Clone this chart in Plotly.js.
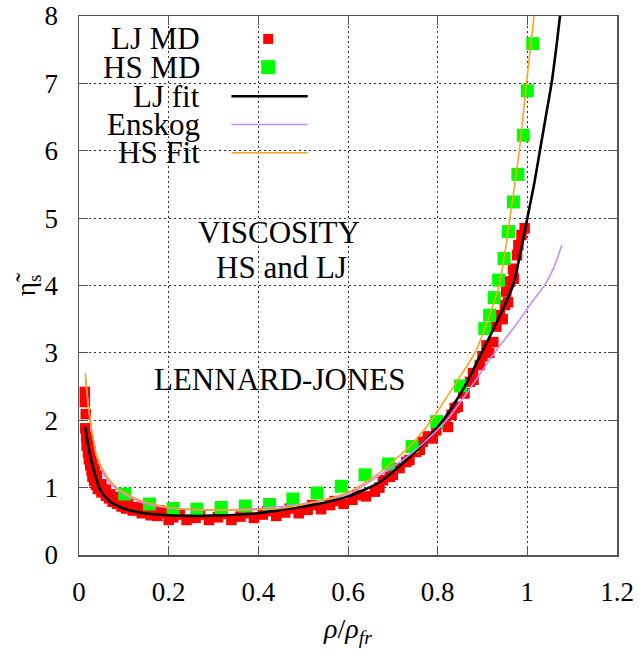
<!DOCTYPE html>
<html>
<head>
<meta charset="utf-8">
<script src="https://cdn.plot.ly/plotly-3.0.1.min.js"></script>
<style>html,body{margin:0;padding:0;background:#fff;}</style>
</head>
<body>
<div id="chart" style="width:643px;height:651px;"></div>
<script>
// LJ MD (red squares)
const ljX = [0.013,0.013,0.015,0.014,0.016,0.017,0.020,0.020,0.022,0.025,0.025,0.028,0.030,0.030,0.034,0.035,0.038,0.040,0.042,0.046,0.050,0.050,0.055,0.060,0.060,0.067,0.070,0.075,0.080,0.085,0.090,0.095,0.105,0.110,0.120,0.130,0.140,0.140,0.155,0.160,0.175,0.180,0.185,0.200,0.210,0.225,0.240,0.260,0.270,0.290,0.310,0.320,0.340,0.360,0.375,0.390,0.410,0.420,0.440,0.460,0.470,0.490,0.510,0.520,0.540,0.560,0.570,0.590,0.610,0.620,0.640,0.660,0.670,0.678,0.693,0.700,0.715,0.730,0.737,0.752,0.760,0.767,0.778,0.789,0.797,0.816,0.823,0.831,0.838,0.845,0.857,0.860,0.872,0.879,0.880,0.894,0.900,0.909,0.915,0.924,0.931,0.939,0.945,0.950,0.953,0.957,0.961,0.968,0.970,0.977,0.980,0.987,0.994];
const ljY = [2.42,2.27,2.09,1.88,1.75,1.62,1.52,1.70,1.42,1.33,1.55,1.25,1.16,1.40,1.10,1.28,1.04,1.18,0.98,1.05,0.93,1.05,0.97,0.88,0.97,0.84,0.90,0.79,0.86,0.76,0.82,0.72,0.69,0.76,0.66,0.71,0.62,0.70,0.66,0.59,0.58,0.66,0.63,0.52,0.56,0.60,0.52,0.55,0.60,0.52,0.56,0.61,0.52,0.57,0.62,0.55,0.60,0.65,0.58,0.63,0.69,0.62,0.67,0.74,0.68,0.74,0.80,0.76,0.82,0.89,0.87,0.94,1.00,1.11,1.16,1.19,1.29,1.38,1.41,1.53,1.56,1.68,1.76,1.73,1.85,1.95,1.90,2.08,2.18,2.20,2.40,2.40,2.57,2.70,2.60,2.82,2.95,3.11,3.00,3.16,3.39,3.56,3.50,3.71,3.91,3.75,4.06,4.25,4.10,4.45,4.60,4.75,4.85];

// HS MD (green squares)
const hsX = [0.102,0.157,0.210,0.263,0.317,0.371,0.425,0.477,0.531,0.585,0.638,0.690,0.743,0.798,0.851,0.905,0.916,0.926,0.936,0.948,0.958,0.969,0.979,0.991,1.000,1.012];
const hsY = [0.905,0.757,0.690,0.680,0.705,0.727,0.750,0.830,0.920,1.020,1.190,1.350,1.610,1.980,2.510,3.360,3.560,3.820,4.080,4.400,4.800,5.240,5.650,6.230,6.890,7.590];

// LJ fit (black line)
const ljFitX = [0.014,0.020,0.029,0.040,0.048,0.070,0.100,0.145,0.200,0.250,0.300,0.400,0.450,0.520,0.600,0.670,0.745,0.812,0.860,0.898,0.935,0.968,0.985,1.000,1.015,1.028,1.041,1.054,1.064,1.073,1.080];
const ljFitY = [1.90,1.65,1.36,1.10,0.96,0.79,0.69,0.62,0.59,0.58,0.585,0.62,0.67,0.74,0.87,1.08,1.50,2.00,2.50,3.00,3.50,4.00,4.50,5.00,5.50,6.00,6.50,7.00,7.50,8.00,8.30];

// Enskog (purple line)
const enskogX = [0.015,0.020,0.030,0.040,0.060,0.090,0.140,0.200,0.300,0.400,0.500,0.600,0.670,0.740,0.820,0.875,0.927,0.975,1.010,1.040,1.060,1.077];
const enskogY = [2.62,2.25,1.80,1.45,1.15,0.95,0.78,0.70,0.67,0.69,0.76,0.90,1.18,1.50,2.00,2.50,3.00,3.42,3.75,4.02,4.28,4.60];

// HS Fit (orange line)
const hsFitX = [0.014,0.018,0.025,0.040,0.063,0.092,0.145,0.220,0.300,0.447,0.521,0.596,0.670,0.737,0.786,0.845,0.883,0.937,0.961,0.982,0.998,1.015,1.022];
const hsFitY = [2.70,2.40,2.00,1.46,1.16,0.96,0.79,0.69,0.67,0.69,0.78,0.915,1.22,1.61,2.00,2.60,3.00,4.00,5.00,6.00,7.00,8.00,8.40];

const legendLabels = ['LJ MD','HS MD','LJ fit','Enskog','HS Fit'];
const xTickVals = [0,0.2,0.4,0.6,0.8,1,1.2];
const yTickVals = [0,1,2,3,4,5,6,7,8];

const FONT = 'Liberation Serif';
const RED = '#ff0000', GREEN = '#00ff00', BLACK = '#000000', PURPLE = '#c38cff', ORANGE = '#ffa21f';

const traces = [
  {x: ljX, y: ljY, type:'scatter', mode:'markers', name: legendLabels[0],
   marker:{symbol:'square', size:10.5, color:RED, line:{width:0}}},
  {x: hsX, y: hsY, type:'scatter', mode:'markers', name: legendLabels[1],
   marker:{symbol:'square', size:13, color:GREEN, line:{width:0}}},
  {x: ljFitX, y: ljFitY, type:'scatter', mode:'lines', name: legendLabels[2],
   line:{color:BLACK, width:2.6, shape:'spline', smoothing:0.7}},
  {x: enskogX, y: enskogY, type:'scatter', mode:'lines', name: legendLabels[3],
   line:{color:PURPLE, width:1.6, shape:'spline', smoothing:0.7}},
  {x: hsFitX, y: hsFitY, type:'scatter', mode:'lines', name: legendLabels[4],
   line:{color:ORANGE, width:1.6, shape:'spline', smoothing:0.7}}
];

const legRowsY = [7.66,7.24,6.81,6.39,5.97];
const legTextX = 0.275, legKeyX0 = 0.34, legKeyX1 = 0.51, legMarkX = 0.422;
const TXT = 31;
const annotations = legendLabels.map((t,i)=>({
  text:t, x:legTextX, y:legRowsY[i], xref:'x', yref:'y', xanchor:'right', yanchor:'middle',
  showarrow:false, font:{family:FONT, size:TXT, color:'#000'}
}));
annotations.push(
  {text:'VISCOSITY', x:0.447, y:4.79, xref:'x', yref:'y', showarrow:false, font:{family:FONT, size:TXT, color:'#000'}},
  {text:'HS and LJ', x:0.452, y:4.26, xref:'x', yref:'y', showarrow:false, font:{family:FONT, size:TXT, color:'#000'}},
  {text:'LENNARD-JONES', x:0.447, y:2.60, xref:'x', yref:'y', showarrow:false, font:{family:FONT, size:TXT, color:'#000'}}
);
const shapes = [
  {type:'rect', xref:'x', yref:'y', xsizemode:'pixel', ysizemode:'pixel', xanchor:legMarkX, yanchor:legRowsY[0],
   x0:-5, x1:5, y0:-5, y1:5, fillcolor:RED, line:{width:0}},
  {type:'rect', xref:'x', yref:'y', xsizemode:'pixel', ysizemode:'pixel', xanchor:legMarkX, yanchor:legRowsY[1],
   x0:-7, x1:7, y0:-7, y1:7, fillcolor:GREEN, line:{width:0}},
  {type:'line', xref:'x', yref:'y', x0:legKeyX0, x1:legKeyX1, y0:legRowsY[2], y1:legRowsY[2], line:{color:BLACK, width:2.6}},
  {type:'line', xref:'x', yref:'y', x0:legKeyX0, x1:legKeyX1, y0:legRowsY[3], y1:legRowsY[3], line:{color:PURPLE, width:1.6}},
  {type:'line', xref:'x', yref:'y', x0:legKeyX0, x1:legKeyX1, y0:legRowsY[4], y1:legRowsY[4], line:{color:ORANGE, width:1.6}}
];

const layout = {
  width:643, height:651,
  margin:{l:79, r:26, t:16, b:96},
  paper_bgcolor:'#fff', plot_bgcolor:'#fff',
  showlegend:false,
  font:{family:FONT, size:27, color:'#000'},
  xaxis: {
    range:[0,1.2], tickmode:'array', tickvals:xTickVals, ticktext:xTickVals.map(String),
    showline:true, linecolor:'#555', linewidth:1.5, mirror:'ticks',
    ticks:'inside', ticklen:9, tickwidth:1, tickcolor:'#555',
    showgrid:true, gridcolor:'#333', gridwidth:1, griddash:'2px,3px', zeroline:false,
    tickfont:{family:FONT, size:27, color:'#000'}, ticklabelstandoff:12,
    title:{text:'<i>ρ</i>/<i>ρ</i><sub><i>fr</i></sub>', font:{family:FONT, size:28, color:'#000'}, standoff:12}
  },
  yaxis: {
    range:[0,8], tickmode:'array', tickvals:yTickVals, ticktext:yTickVals.map(String),
    showline:true, linecolor:'#555', linewidth:1.5, mirror:'ticks',
    ticks:'inside', ticklen:9, tickwidth:1, tickcolor:'#555',
    showgrid:true, gridcolor:'#333', gridwidth:1, griddash:'2px,3px', zeroline:false,
    tickfont:{family:FONT, size:27, color:'#000'}, ticklabelstandoff:14,
    title:{text:'η̃<sub>s</sub>', font:{family:FONT, size:27, color:'#000'}, standoff:0}
  },
  annotations: annotations,
  shapes: shapes
};

Plotly.newPlot('chart', traces, layout, {displayModeBar:false, staticPlot:true});
</script>
</body>
</html>
